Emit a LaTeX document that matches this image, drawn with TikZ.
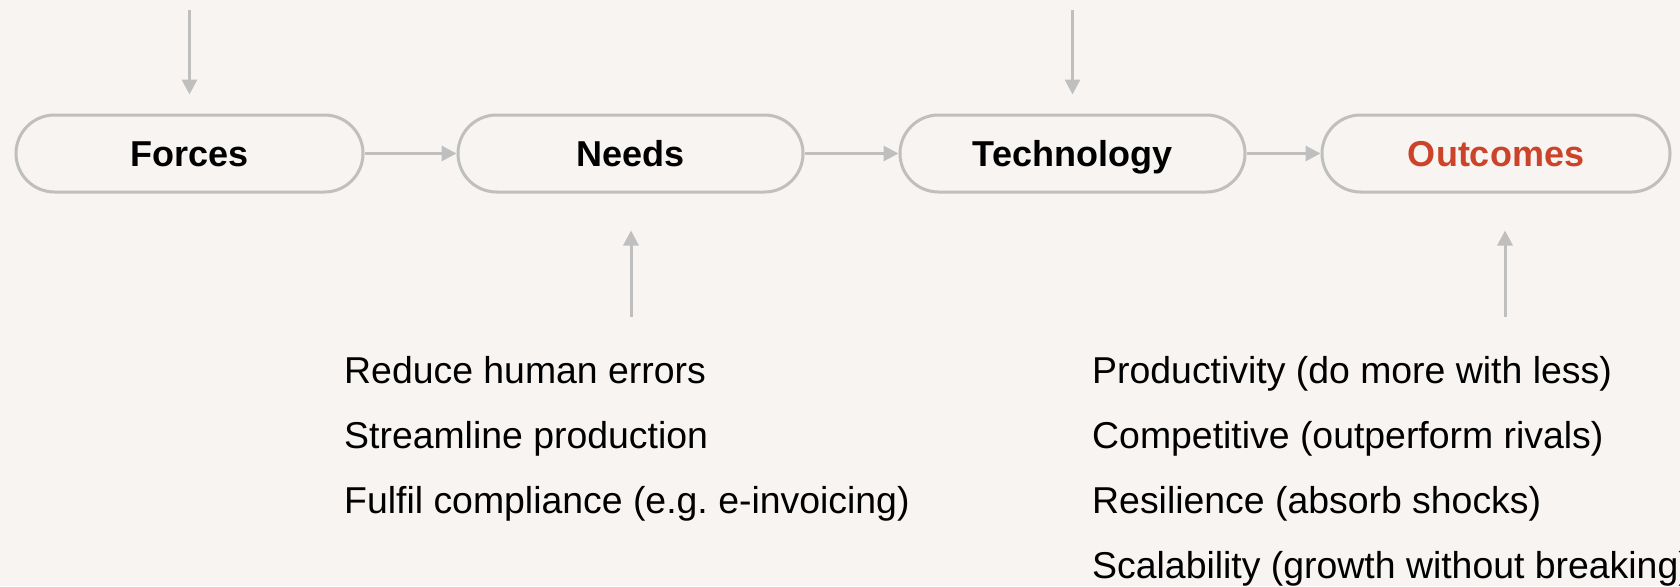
\documentclass[tikz,border=0pt]{standalone}
\usepackage{fontspec}
\setmainfont{Liberation Sans}
\usetikzlibrary{arrows.meta}
\definecolor{paper}{HTML}{F7F4F1}
\definecolor{rulegray}{HTML}{BFBFBF}
\definecolor{accent}{HTML}{CB4429}
\begin{document}
\begin{tikzpicture}[x=1pt,y=-1pt,
  stage/.style={draw=rulegray, line width=3pt, rounded corners=38.5pt,
    minimum height=77pt, inner sep=0pt,
    text height=25.8pt, text depth=0pt,
    font=\fontsize{36}{43}\selectfont\bfseries},
  flow/.style={draw=rulegray, line width=3pt,
    -{Triangle[length=15pt,width=15pt]}},
  item/.style={anchor=base west, inner sep=0pt,
    font=\fontsize{37.4}{44}\selectfont}]
% page and background
\fill[paper] (0,0) rectangle (1680,586);
\useasboundingbox (0,0) rectangle (1680,586);
\clip (0,0) rectangle (1680,586);

% the four stages
\node[stage, minimum width=347pt] (forces) at (189.5,153.5) {Forces};
\node[stage, minimum width=345pt] (needs)  at (630.5,153.5) {Needs};
\node[stage, minimum width=345pt] (tech)   at (1072.5,153.5) {Technology};
\node[stage, minimum width=348pt, text=accent] (outcomes) at (1496,153.5) {Outcomes};

% main flow
\draw[flow] (forces.east) -- (needs.west);
\draw[flow] (needs.east) -- (tech.west);
\draw[flow] (tech.east) -- (outcomes.west);

% inputs from above
\coordinate (forcesin) at (189.5,10);
\coordinate (techin) at (1072.5,10);
\draw[flow, shorten >=19pt] (forcesin) -- (forces.north);
\draw[flow, shorten >=19pt] (techin) -- (tech.north);

% inputs from below
\coordinate (needsin) at (631,317);
\coordinate (outin) at (1505,317);
\draw[flow, shorten >=37pt] (needsin) -- (needsin |- needs.south);
\draw[flow, shorten >=37pt] (outin) -- (outin |- outcomes.south);

% needs list
\node[item] (n1) at (344,383) {Reduce human errors};
\node[item] (n2) at (344,448) {Streamline production};
\node[item] (n3) at (344,513) {Fulfil compliance (e.g.\ e-invoicing)};

% outcomes list
\node[item] (o1) at (1092,383) {Productivity (do more with less)};
\node[item] (o2) at (1092,448) {Competitive (outperform rivals)};
\node[item] (o3) at (1092,513) {Resilience (absorb shocks)};
\node[item] (o4) at (1092,578) {Scalability (growth without breaking)};
\end{tikzpicture}
\end{document}
